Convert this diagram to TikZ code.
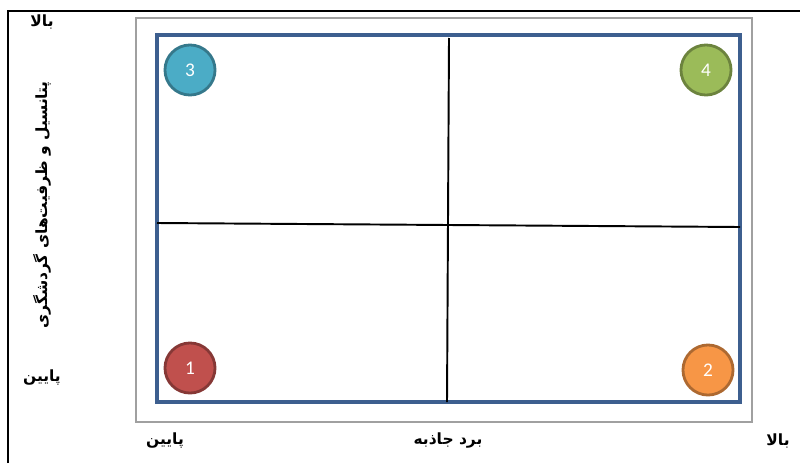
\documentclass[tikz,border=0pt]{standalone}
\usepackage{fontspec}
\newfontfamily\arabicfont[Script=Arabic]{DejaVu Sans}
\newfontfamily\numfont{Carlito}
\TeXXeTstate=1
\definecolor{frameblue}{HTML}{3D5F8F}
\definecolor{boxgray}{HTML}{A0A0A0}
\definecolor{qone}{HTML}{C0504D}
\definecolor{qtwo}{HTML}{F79646}
\definecolor{qthree}{HTML}{4BACC6}
\definecolor{qfour}{HTML}{9BBB59}

\begin{document}
\begin{tikzpicture}[x=0.02cm,y=-0.02cm]
    \tikzstyle{quad}=[circle,draw=#1!70!black,fill=#1,line width=1.6pt,inner sep=0pt,text=white,font=\numfont\fontsize{11}{13}\selectfont]
    \tikzstyle{lbl}=[inner sep=0pt,font=\arabicfont\bfseries\fontsize{8.8}{10}\selectfont]
    \useasboundingbox (0,0) rectangle (800,463);

    % frames
    \draw[line width=1.2pt] (8,463) -- (8,11) -- (800,11);
    \draw[boxgray,line width=0.8pt] (136,18) rectangle (752,422);
    \draw[frameblue,line width=1.8pt] (157,35) rectangle (740,402);

    % axes
    \coordinate (V-top) at (449,38);
    \coordinate (V-bot) at (447,402);
    \coordinate (H-left) at (157,223);
    \coordinate (H-right) at (740,227);
    \draw[line width=1.1pt] (V-top) -- (V-bot);
    \draw[line width=1.1pt] (H-left) -- (H-right);

    % quadrants
    \foreach \num/\x/\y/\col in {1/190/368/qone, 2/708/370/qtwo, 3/190/70/qthree, 4/706/70/qfour}
        \node[quad=\col,minimum size=28.5pt] (Q-\num) at (\x,\y) {\num};

    % labels
    \node[lbl] (Y-high) at (42,22) {\beginR بالا\endR};
    \node[lbl] (Y-low) at (42,378) {\beginR پایین\endR};
    \node[lbl,rotate=90] (Y-name) at (42,205) {\beginR پتانسیل و ظرفیت‌های گردشگری\endR};
    \node[lbl] (X-low) at (165,441) {\beginR پایین\endR};
    \node[lbl] (X-name) at (448,441) {\beginR برد جاذبه\endR};
    \node[lbl] (X-high) at (778,441) {\beginR بالا\endR};
\end{tikzpicture}
\end{document}
